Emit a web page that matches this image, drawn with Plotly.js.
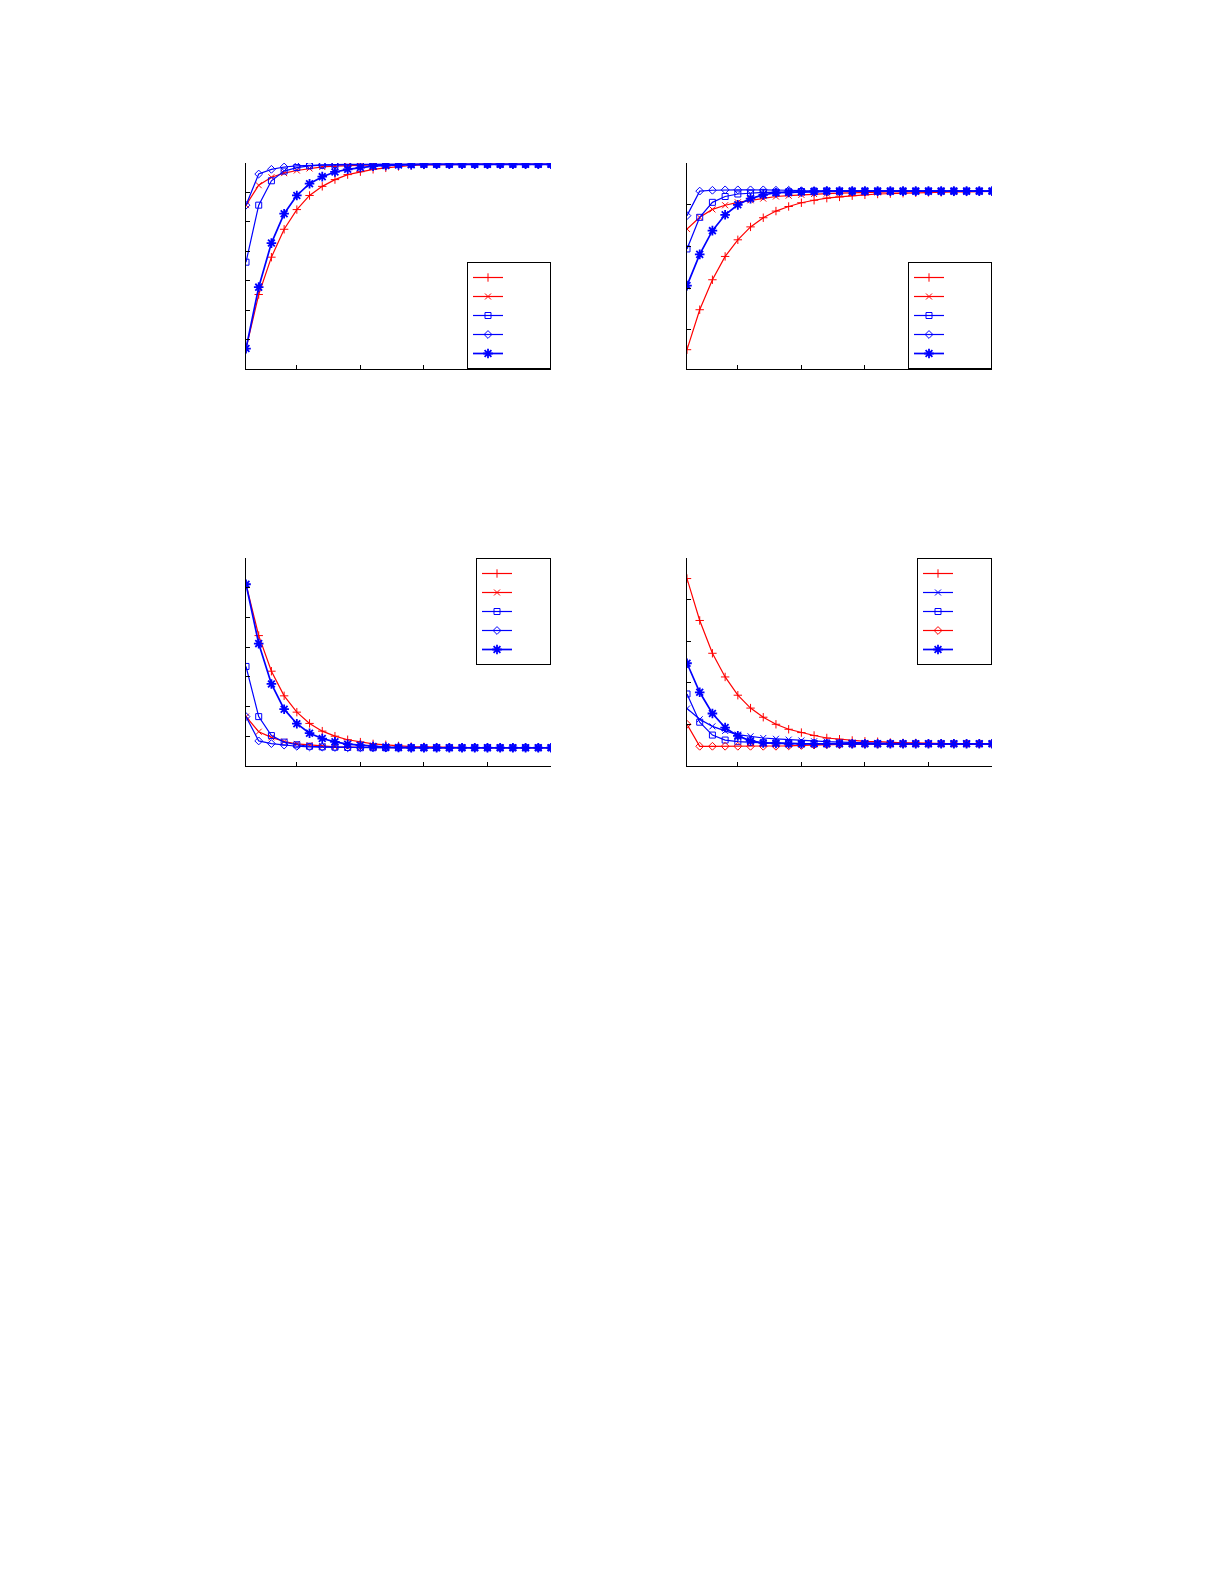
<!DOCTYPE html>
<html>
<head>
<meta charset="utf-8">
<script src="https://cdn.plot.ly/plotly-3.0.1.min.js"></script>
<style>
  html, body { margin: 0; padding: 0; background: #fff; }
  #chart { width: 1225px; height: 1585px; }
</style>
</head>
<body>
<div id="chart"></div>
<script>
// x positions shared by all four panels
const iterations = [1, 2, 3, 4, 5, 6, 7, 8, 9, 10, 11, 12, 13, 14, 15, 16, 17, 18, 19, 20, 21, 22, 23, 24, 25];
const xTicks = [5, 10, 15, 20, 25];

// top left panel
const tlPlus = [0.369, 0.553, 0.680, 0.775, 0.842, 0.890, 0.921, 0.944, 0.961, 0.971, 0.979, 0.984, 0.989, 0.992, 0.994, 0.995, 0.996, 0.996, 0.996, 0.996, 0.996, 0.996, 0.996, 0.996, 0.996];
const tlCross = [0.857, 0.925, 0.952, 0.966, 0.975, 0.982, 0.987, 0.990, 0.992, 0.993, 0.994, 0.995, 0.996, 0.996, 0.996, 0.996, 0.996, 0.996, 0.996, 0.996, 0.996, 0.996, 0.996, 0.996, 0.996];
const tlSquare = [0.663, 0.857, 0.940, 0.973, 0.985, 0.991, 0.993, 0.994, 0.995, 0.996, 0.996, 0.996, 0.996, 0.996, 0.996, 0.996, 0.996, 0.996, 0.996, 0.996, 0.996, 0.996, 0.996, 0.996, 0.996];
const tlDiamond = [0.857, 0.963, 0.979, 0.987, 0.991, 0.993, 0.994, 0.995, 0.996, 0.996, 0.996, 0.996, 0.996, 0.996, 0.996, 0.996, 0.996, 0.996, 0.996, 0.996, 0.996, 0.996, 0.996, 0.996, 0.996];
const tlStar = [0.369, 0.578, 0.728, 0.828, 0.890, 0.930, 0.954, 0.970, 0.979, 0.985, 0.990, 0.992, 0.994, 0.995, 0.996, 0.996, 0.996, 0.996, 0.996, 0.996, 0.996, 0.996, 0.996, 0.996, 0.996];
const tlTicks = [0.3, 0.4, 0.5, 0.6, 0.7, 0.8, 0.9, 1.0];

// top right panel
const trPlus = [0.552, 0.648, 0.720, 0.776, 0.816, 0.847, 0.869, 0.885, 0.896, 0.905, 0.911, 0.916, 0.919, 0.922, 0.924, 0.926, 0.927, 0.928, 0.929, 0.930, 0.930, 0.931, 0.931, 0.932, 0.932];
const trCross = [0.842, 0.870, 0.889, 0.899, 0.906, 0.911, 0.915, 0.920, 0.922, 0.924, 0.926, 0.927, 0.928, 0.929, 0.930, 0.930, 0.931, 0.931, 0.932, 0.932, 0.932, 0.932, 0.932, 0.932, 0.932];
const trSquare = [0.794, 0.870, 0.906, 0.920, 0.926, 0.928, 0.930, 0.930, 0.931, 0.932, 0.933, 0.933, 0.933, 0.933, 0.933, 0.933, 0.933, 0.933, 0.933, 0.933, 0.933, 0.933, 0.933, 0.933, 0.933];
const trDiamond = [0.874, 0.933, 0.935, 0.936, 0.936, 0.936, 0.936, 0.935, 0.935, 0.934, 0.934, 0.934, 0.933, 0.933, 0.933, 0.933, 0.933, 0.933, 0.933, 0.933, 0.933, 0.933, 0.933, 0.933, 0.933];
const trStar = [0.706, 0.781, 0.838, 0.876, 0.900, 0.915, 0.924, 0.929, 0.930, 0.931, 0.932, 0.933, 0.933, 0.933, 0.933, 0.933, 0.933, 0.933, 0.933, 0.933, 0.933, 0.933, 0.933, 0.933, 0.933];
const trTicks = [0.6, 0.7, 0.8, 0.9, 1.0];

// bottom left panel
const blPlus = [0.612, 0.439, 0.319, 0.236, 0.181, 0.143, 0.117, 0.100, 0.088, 0.080, 0.074, 0.071, 0.067, 0.065, 0.064, 0.063, 0.062, 0.062, 0.062, 0.061, 0.061, 0.061, 0.061, 0.061, 0.061];
const blCross = [0.166, 0.115, 0.096, 0.082, 0.074, 0.070, 0.066, 0.064, 0.063, 0.062, 0.061, 0.061, 0.061, 0.061, 0.061, 0.061, 0.061, 0.061, 0.061, 0.061, 0.061, 0.061, 0.061, 0.061, 0.061];
const blSquare = [0.335, 0.166, 0.102, 0.080, 0.071, 0.066, 0.064, 0.063, 0.062, 0.061, 0.061, 0.061, 0.061, 0.061, 0.061, 0.061, 0.061, 0.061, 0.061, 0.061, 0.061, 0.061, 0.061, 0.061, 0.061];
const blDiamond = [0.166, 0.084, 0.075, 0.070, 0.066, 0.064, 0.063, 0.062, 0.061, 0.061, 0.061, 0.061, 0.061, 0.061, 0.061, 0.061, 0.061, 0.061, 0.061, 0.061, 0.061, 0.061, 0.061, 0.061, 0.061];
const blStar = [0.612, 0.412, 0.276, 0.191, 0.142, 0.110, 0.092, 0.081, 0.073, 0.069, 0.065, 0.063, 0.062, 0.061, 0.061, 0.061, 0.061, 0.061, 0.061, 0.061, 0.061, 0.061, 0.061, 0.061, 0.061];
const blTicks = [0, 0.1, 0.2, 0.3, 0.4, 0.5, 0.6, 0.7];

// bottom right panel
const brPlus = [0.451, 0.350, 0.271, 0.214, 0.170, 0.139, 0.117, 0.100, 0.088, 0.080, 0.073, 0.067, 0.064, 0.061, 0.059, 0.058, 0.056, 0.055, 0.055, 0.054, 0.054, 0.053, 0.053, 0.053, 0.053];
const brCross = [0.138, 0.112, 0.095, 0.084, 0.075, 0.071, 0.067, 0.065, 0.063, 0.061, 0.059, 0.058, 0.057, 0.056, 0.055, 0.055, 0.054, 0.054, 0.053, 0.053, 0.053, 0.053, 0.053, 0.053, 0.053];
const brSquare = [0.173, 0.105, 0.074, 0.062, 0.058, 0.056, 0.055, 0.055, 0.054, 0.053, 0.053, 0.053, 0.053, 0.053, 0.053, 0.053, 0.053, 0.053, 0.053, 0.053, 0.053, 0.053, 0.053, 0.053, 0.053];
const brDiamond = [0.100, 0.047, 0.047, 0.047, 0.047, 0.047, 0.047, 0.047, 0.048, 0.049, 0.050, 0.051, 0.051, 0.052, 0.052, 0.052, 0.053, 0.053, 0.053, 0.053, 0.053, 0.053, 0.053, 0.053, 0.053];
const brStar = [0.247, 0.177, 0.126, 0.092, 0.072, 0.060, 0.055, 0.054, 0.053, 0.053, 0.053, 0.053, 0.053, 0.053, 0.053, 0.053, 0.053, 0.053, 0.053, 0.053, 0.053, 0.053, 0.053, 0.053, 0.053];
const brTicks = [0, 0.1, 0.2, 0.3, 0.4, 0.5];

const RED = "rgb(255,0,0)";
const BLUE = "rgb(0,0,255)";
const topName = "\u00a0".repeat(12);
const bottomName = "\u00a0".repeat(10);

function series(y, color, symbol, axisNo, legendId, thick) {
  const sfx = axisNo === 1 ? "" : String(axisNo);
  return {
    x: iterations,
    y: y,
    xaxis: "x" + sfx,
    yaxis: "y" + sfx,
    legend: legendId,
    type: "scatter",
    mode: "lines+markers",
    name: axisNo <= 2 ? topName : bottomName,
    line: { color: color, width: thick ? 1.7 : 1.2 },
    marker: {
      symbol: symbol,
      size: symbol === "asterisk-open" ? 8 : 6,
      color: color,
      line: { color: color, width: thick ? 1.8 : 1 },
    },
  };
}

const traces = [
  series(tlPlus, RED, "cross-thin-open", 1, "legend"),
  series(tlCross, RED, "x-thin-open", 1, "legend"),
  series(tlSquare, BLUE, "square-open", 1, "legend"),
  series(tlDiamond, BLUE, "diamond-open", 1, "legend"),
  series(tlStar, BLUE, "asterisk-open", 1, "legend", true),

  series(trPlus, RED, "cross-thin-open", 2, "legend2"),
  series(trCross, RED, "x-thin-open", 2, "legend2"),
  series(trSquare, BLUE, "square-open", 2, "legend2"),
  series(trDiamond, BLUE, "diamond-open", 2, "legend2"),
  series(trStar, BLUE, "asterisk-open", 2, "legend2", true),

  series(blPlus, RED, "cross-thin-open", 3, "legend3"),
  series(blCross, RED, "x-thin-open", 3, "legend3"),
  series(blSquare, BLUE, "square-open", 3, "legend3"),
  series(blDiamond, BLUE, "diamond-open", 3, "legend3"),
  series(blStar, BLUE, "asterisk-open", 3, "legend3", true),

  series(brPlus, RED, "cross-thin-open", 4, "legend4"),
  series(brCross, BLUE, "x-thin-open", 4, "legend4"),
  series(brSquare, BLUE, "square-open", 4, "legend4"),
  series(brDiamond, RED, "diamond-open", 4, "legend4"),
  series(brStar, BLUE, "asterisk-open", 4, "legend4", true),
];

const W = 1225, H = 1585;
const colL = [246 / W, 551 / W];
const colR = [687 / W, 992 / W];
const rowT = [1 - 369 / H, 1 - 163 / H];
const rowB = [1 - 766 / H, 1 - 558 / H];

function xAxis(domain, anchor) {
  return {
    domain: domain,
    anchor: anchor,
    range: [1, 25],
    tickvals: xTicks,
    ticks: "inside",
    ticklen: 4,
    tickcolor: "#000",
    showticklabels: false,
    showline: true,
    linecolor: "#000",
    linewidth: 1,
    showgrid: false,
    zeroline: false,
  };
}

function yAxis(domain, anchor, range, tickvals) {
  return {
    domain: domain,
    anchor: anchor,
    range: range,
    tickvals: tickvals,
    ticks: "inside",
    ticklen: 4,
    tickcolor: "#000",
    showticklabels: false,
    showline: true,
    linecolor: "#000",
    linewidth: 1,
    showgrid: false,
    zeroline: false,
  };
}

function legendBox(xRight, yBottom, yTop, fontSize) {
  const box = {
    x: xRight,
    xanchor: "right",
    bgcolor: "#fff",
    bordercolor: "#000",
    borderwidth: 1,
    font: { family: "Liberation Sans, Arial, sans-serif", size: fontSize, color: "#000" },
    tracegroupgap: 0,
    itemclick: false,
  };
  if (yBottom !== null) {
    box.y = yBottom;
    box.yanchor = "bottom";
  } else {
    box.y = yTop;
    box.yanchor = "top";
  }
  return box;
}

const layout = {
  width: W,
  height: H,
  margin: { l: 0, r: 0, t: 0, b: 0 },
  paper_bgcolor: "#fff",
  plot_bgcolor: "rgba(0,0,0,0)",
  showlegend: true,
  font: { family: "Liberation Sans, Arial, sans-serif", color: "#000" },

  xaxis: xAxis(colL, "y"),
  yaxis: yAxis(rowT, "x", [0.2995, 1.0005], tlTicks),
  xaxis2: xAxis(colR, "y2"),
  yaxis2: yAxis(rowT, "x2", [0.5056, 1.0005], trTicks),
  xaxis3: xAxis(colL, "y3"),
  yaxis3: yAxis(rowB, "x3", [-0.0005, 0.7005], blTicks),
  xaxis4: xAxis(colR, "y4"),
  yaxis4: yAxis(rowB, "x4", [-0.0005, 0.5005], brTicks),

  legend: legendBox(colL[1], rowT[0], null, 11),
  legend2: legendBox(colR[1], rowT[0], null, 11),
  legend3: legendBox(colL[1], null, rowB[1], 10),
  legend4: legendBox(colR[1], null, rowB[1], 10),
};

Plotly.newPlot("chart", traces, layout, { staticPlot: true, displayModeBar: false });
</script>
</body>
</html>
